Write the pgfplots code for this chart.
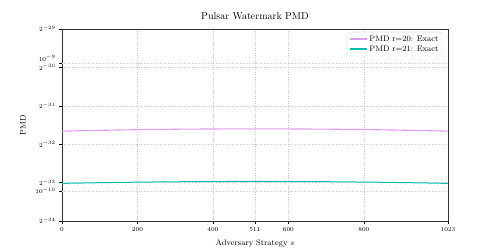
\documentclass[border=0pt]{standalone}
\usepackage{pgfplots}
\pgfplotsset{compat=1.18}
\definecolor{pinkc}{HTML}{DD9CEE}
\definecolor{tealc}{HTML}{00BDB0}
\begin{document}
\begin{tikzpicture}
\useasboundingbox (-62pt,-28pt) rectangle (436pt,221pt);
\begin{axis}[
  at={(0,0)}, anchor=south west,
  scale only axis, width=386pt, height=192pt,
  xmin=0, xmax=1023,
  ymode=log, log basis y=2,
  ymin=5.820766e-11, ymax=1.862645e-9,
  xtick={0,200,400,511,600,800,1023},
  xticklabels={0,200,400,511,600,800,1023},
  ytick={5.820766e-11,1.164153e-10,2.328306e-10,4.656613e-10,9.313226e-10,1.862645e-9},
  yticklabels={$2^{-34}$,$2^{-33}$,$2^{-32}$,$2^{-31}$,\raisebox{-1pt}{$2^{-30}$},$2^{-29}$},
  extra y ticks={1e-9,1e-10},
  extra y tick labels={\raisebox{2pt}[0pt][0pt]{$10^{-9}$},$10^{-10}$},
  extra y tick style={grid=major, tick style={black, line width=0.8pt}},
  minor y tick num=0,
  ymajorgrids, xmajorgrids,
  grid style={gray!40, dotted, line width=0.4pt},
  tick align=outside, major tick length=3pt,
  tick style={black, line width=0.6pt},
  xtick pos=bottom, ytick pos=left,
  axis line style={black!80, line width=0.8pt},
  ticklabel style={font=\fontsize{6}{7}\selectfont},
  title={Pulsar Watermark PMD},
  title style={font=\fontsize{10}{12}\selectfont, at={(0.5,1)}, anchor=south, yshift=0pt},
  xlabel={Adversary Strategy $s$},
  xlabel style={font=\fontsize{8}{9.6}\selectfont, at={(axis description cs:0.5,-0.08)}, anchor=north},
  ylabel={PMD},
  ylabel style={font=\fontsize{8}{9.6}\selectfont, at={(axis description cs:-0.085,0.5)}},
  legend style={at={(0.985,0.985)}, anchor=north east, font=\fontsize{8}{9.6}\selectfont,
    draw=black!15, rounded corners=1.5pt, inner sep=1.5pt, row sep=-1pt},
  legend cell align=left,
]
\addlegendimage{color=pinkc, line width=1.2pt, line legend}
\addlegendentry{PMD r=20: Exact}
\addlegendimage{color=tealc, line width=1.2pt, line legend}
\addlegendentry{PMD r=21: Exact}
\addplot[pinkc, line width=1.1pt, forget plot] coordinates {
(0,2.9470e-10) (64,2.9758e-10) (128,3.0006e-10) (192,3.0236e-10) (256,3.0404e-10)
(320,3.0553e-10) (384,3.0637e-10) (448,3.0701e-10) (511,3.0722e-10) (576,3.0701e-10)
(640,3.0637e-10) (704,3.0553e-10) (768,3.0404e-10) (832,3.0236e-10) (896,3.0006e-10)
(960,2.9758e-10) (1023,2.9470e-10)};
\addplot[tealc, line width=1.0pt, forget plot] coordinates {
(0,1.14812e-10) (64,1.15749e-10) (128,1.16569e-10) (192,1.17265e-10) (256,1.17835e-10)
(320,1.18286e-10) (384,1.18606e-10) (448,1.18798e-10) (511,1.18861e-10) (576,1.18798e-10)
(640,1.18606e-10) (704,1.18286e-10) (768,1.17835e-10) (832,1.17265e-10) (896,1.16569e-10)
(960,1.15749e-10) (1023,1.14812e-10)};
\end{axis}
\end{tikzpicture}
\end{document}
